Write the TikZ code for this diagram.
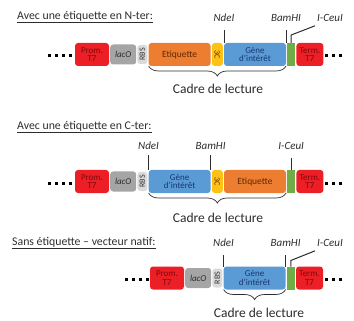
\documentclass[tikz,border=0pt]{standalone}
\usepackage{fontspec}
\setmainfont{Carlito}
\usepackage{tikz}
\usetikzlibrary{positioning}
\usetikzlibrary{decorations.pathreplacing}

\definecolor{promred}{RGB}{236,30,38}
\definecolor{promtxt}{RGB}{125,10,15}
\definecolor{lacgray}{RGB}{165,165,165}
\definecolor{rbsgray}{RGB}{218,218,218}
\definecolor{etiqorange}{RGB}{237,125,49}
\definecolor{etiqtxt}{RGB}{95,40,5}
\definecolor{tcyellow}{RGB}{255,193,20}
\definecolor{geneblue}{RGB}{91,155,213}
\definecolor{genetxt}{RGB}{25,55,110}
\definecolor{sitegreen}{RGB}{112,173,71}
\definecolor{txtgray}{RGB}{45,45,45}

\begin{document}
\begin{tikzpicture}[x=1pt,y=-1pt,node distance=1.2pt,
  blk/.style={rectangle,rounded corners=3pt,inner sep=0pt,outer sep=0pt,minimum height=23pt,align=center,font=\fontsize{9}{8.5}\selectfont},
  prom/.style={blk,fill=promred,text=promtxt,minimum width=34pt},
  lac/.style={blk,fill=lacgray,text=txtgray,minimum width=26pt,minimum height=20pt,font=\fontsize{9}{9}\selectfont\itshape},
  rbs/.style={blk,fill=rbsgray,text=txtgray,minimum width=10pt,minimum height=19pt,font=\fontsize{8}{8}\selectfont},
  etiq/.style={blk,fill=etiqorange,text=etiqtxt,minimum width=62pt,font=\fontsize{9.5}{9.5}\selectfont},
  tc/.style={blk,fill=tcyellow,text=etiqtxt,minimum width=11pt,font=\fontsize{8}{8}\selectfont},
  gene/.style={blk,fill=geneblue,text=genetxt,minimum width=62pt,font=\fontsize{9}{8.5}\selectfont},
  cut/.style={blk,fill=sitegreen,minimum width=8pt,rounded corners=0pt},
  term/.style={blk,fill=promred,text=promtxt,minimum width=27pt},
  site/.style={font=\fontsize{11}{11}\selectfont\itshape,text=txtgray,inner sep=0pt},
  siteline/.style={draw=txtgray,line width=1pt},
  titre/.style={anchor=west,font=\fontsize{11.8}{11.8}\selectfont,text=txtgray,inner sep=0pt},
  cadre/.style={font=\fontsize{13.5}{13.5}\selectfont,text=txtgray,inner sep=0pt},
  brc/.style={draw=txtgray,line width=0.7pt,decorate,decoration={brace,mirror,amplitude=10pt}},
  dots/.style={draw=black,line width=3pt,dash pattern=on 3pt off 4pt}]
  \useasboundingbox (0,0) rectangle (354,321);

  \node[titre] (t1) at (17,17) {\underline{Avec une étiquette en N-ter:}};
  \node[prom] (p1) at (92,54.5) {Prom.\\T7};
  \node[lac,right=of p1] (l1) {lacO};
  \node[rbs,right=of l1] (r1) {\rotatebox{90}{RBS}};
  \node[etiq,right=of r1] (e1) {Etiquette};
  \node[tc,right=of e1] (c1) {\rotatebox{-90}{3C}};
  \node[gene,right=of c1] (g1) {Gène\\d'intérêt};
  \node[cut,right=of g1] (v1) {};
  \node[term,right=of v1] (m1) {Term.\\T7};
  \coordinate (a1) at (48,56);
  \coordinate (b1) at (325,56);
  \draw[dots] (a1) -- ++(24,0);
  \draw[dots] (b1) -- ++(18,0);
  \coordinate (h1) at (0,18);
  \node[site] (n1) at (g1.north west |- h1) {NdeI};
  \node[site] (s1) at (g1.north east |- h1) {BamHI};
  \node[site] (i1) at (330,18) {I-CeuI};
  \draw[siteline] (g1.north west) -- ++(0,-13);
  \draw[siteline] (g1.north east) -- ++(0,-13);
  \draw[siteline] (v1.north) -- ++(0,-8) -- ([xshift=-2pt,yshift=-4pt]i1.south west);
  \draw[brc] (e1.south west) -- (g1.south east);
  \node[cadre] (k1) at (218,89) {Cadre de lecture};

  \node[titre] (t2) at (17,127) {\underline{Avec une étiquette en C-ter:}};
  \node[prom] (p2) at (92,181.5) {Prom.\\T7};
  \node[lac,right=of p2] (l2) {lacO};
  \node[rbs,right=of l2] (r2) {\rotatebox{90}{RBS}};
  \node[gene,right=of r2] (g2) {Gène\\d'intérêt};
  \node[tc,right=of g2] (c2) {\rotatebox{-90}{3C}};
  \node[etiq,right=of c2] (e2) {Etiquette};
  \node[cut,right=of e2] (v2) {};
  \node[term,right=of v2] (m2) {Term.\\T7};
  \coordinate (a2) at (48,183);
  \coordinate (b2) at (325,183);
  \draw[dots] (a2) -- ++(24,0);
  \draw[dots] (b2) -- ++(18,0);
  \coordinate (h2) at (0,146);
  \node[site] (n2) at (g2.north west |- h2) {NdeI};
  \node[site] (s2) at (g2.north east |- h2) {BamHI};
  \node[site] (i2) at (v2.north |- h2) {I-CeuI};
  \draw[siteline] (g2.north west) -- ++(0,-15);
  \draw[siteline] (g2.north east) -- ++(0,-15);
  \draw[siteline] (v2.north) -- ++(0,-12);
  \draw[brc] (g2.south west) -- (e2.south east);
  \node[cadre] (k2) at (218,218) {Cadre de lecture};

  \node[titre] (t3) at (12,243) {\underline{Sans étiquette – vecteur natif:}};
  \node[prom] (p3) at (167,278) {Prom.\\T7};
  \node[lac,right=of p3] (l3) {lacO};
  \node[rbs,right=of l3] (r3) {\rotatebox{90}{RBS}};
  \node[gene,right=of r3] (g3) {Gène\\d'intérêt};
  \node[cut,right=of g3] (v3) {};
  \node[term,right=of v3] (m3) {Term.\\T7};
  \coordinate (a3) at (125,279);
  \coordinate (b3) at (325,279);
  \draw[dots] (a3) -- ++(24,0);
  \draw[dots] (b3) -- ++(18,0);
  \coordinate (h3) at (0,243);
  \node[site] (n3) at (g3.north west |- h3) {NdeI};
  \node[site] (s3) at (g3.north east |- h3) {BamHI};
  \node[site] (i3) at (330,243) {I-CeuI};
  \draw[siteline] (g3.north west) -- ++(0,-12);
  \draw[siteline] (g3.north east) -- ++(0,-12);
  \draw[siteline] (v3.north) -- ++(0,-6) -- ([xshift=-2pt,yshift=-4pt]i3.south west);
  \draw[brc] (g3.south west) -- (g3.south east);
  \node[cadre] (k3) at (259,313) {Cadre de lecture};
\end{tikzpicture}
\end{document}
